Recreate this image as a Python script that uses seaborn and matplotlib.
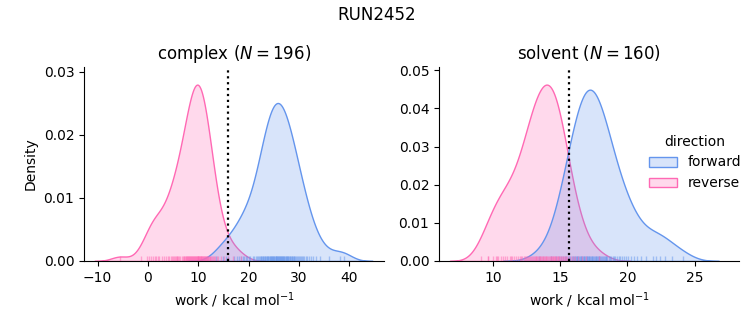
import matplotlib
matplotlib.use("Agg")
import matplotlib.pyplot as plt
import pandas as pd
import seaborn as sns

complex_reverse = [
    -5.6, -1.4, 0.3, 0.6, 1.0, 1.5, 1.9,
    -0.15, 1.41, 2.23, 2.80, 3.25, 3.63, 3.95, 4.23, 4.49, 4.73, 4.95,
    5.15, 5.35, 5.53, 5.70, 5.86, 6.02, 6.17, 6.32, 6.73,
    6.98, 7.10, 7.22, 7.34, 7.46, 7.57, 7.68, 7.79, 7.90, 8.00,
    8.11, 8.21, 8.31, 8.42, 8.52, 8.61, 8.71, 8.81, 8.91, 9.00, 9.10,
    9.19, 9.29, 9.38, 9.48, 9.57, 9.67, 9.76, 9.85, 9.90,
    9.94, 10.03, 10.11, 10.19, 10.28, 10.36, 10.45, 10.53, 10.62, 10.71,
    10.80, 10.89, 10.98, 11.07, 11.17, 11.26, 11.36, 11.46, 11.56, 11.67,
    11.77, 11.89, 12.00, 12.12, 12.25, 12.38, 12.54, 12.73, 12.94, 13.16,
    13.40, 13.66, 13.96, 14.60, 15.20, 15.90, 16.80, 18.40,
]
complex_forward = [
    13.6, 14.9, 16.0, 17.6, 18.8,
    15.56, 17.16, 18.00, 18.58, 19.04, 19.43, 19.76, 20.06, 20.33,
    20.80, 21.01, 21.40, 21.58, 21.92, 22.08, 22.23, 22.38,
    22.53, 22.67, 22.80, 22.94, 23.07, 23.19, 23.32, 23.44, 23.56, 23.68,
    23.80, 23.92, 24.03, 24.15, 24.26, 24.37, 24.48, 24.59, 24.70, 24.81,
    24.91, 25.02, 25.13, 25.23, 25.34, 25.45, 25.50,
    25.55, 25.65, 25.75, 25.85, 25.96, 26.06, 26.16, 26.26, 26.37, 26.47,
    26.57, 26.68, 26.78, 26.89, 27.00, 27.11, 27.22, 27.33, 27.44, 27.56,
    27.67, 27.79, 27.91, 28.03, 28.15, 28.28, 28.41, 28.54, 28.68, 28.82,
    28.96, 29.11, 29.27, 29.43, 29.59, 29.76, 29.95, 30.14, 30.34, 30.55,
    30.78, 31.03, 31.30, 31.60, 31.94, 32.33, 32.80, 33.40, 34.25, 35.88,
    38.2, 39.0,
]
solvent_reverse = [
    9.1, 9.6, 10.0, 10.2, 10.3, 10.6, 10.9, 11.3,
    9.62, 10.37, 10.76, 11.03, 11.25, 11.43, 11.59, 11.73, 11.85, 11.97,
    12.08, 12.18, 12.28, 12.37, 12.45, 12.53, 12.61, 12.69, 12.76, 12.83,
    12.90, 12.97, 13.04, 13.10, 13.16, 13.22, 13.28, 13.35, 13.40, 13.46,
    13.52, 13.58, 13.63, 13.69, 13.74, 13.80, 13.85, 13.91, 13.96, 14.02,
    14.07,
    14.18, 14.23, 14.28, 14.33, 14.38, 14.43, 14.48, 14.53, 14.59, 14.64,
    14.69, 14.75, 14.81, 14.86, 14.92, 14.99, 15.05, 15.12, 15.19, 15.26,
    15.34, 15.43, 15.54, 15.66, 15.80, 15.95, 16.12, 16.33, 16.59, 16.95,
    17.90,
]
solvent_forward = [
    13.40, 14.34, 14.66, 14.89, 15.06, 15.21, 15.34, 15.46, 15.57, 15.66,
    15.76, 15.84, 15.92, 16.00, 16.07, 16.14, 16.21, 16.28, 16.34, 16.40,
    16.46, 16.52, 16.58, 16.64, 16.69, 16.75, 16.80, 16.86, 16.91, 16.96,
    17.02, 17.07, 17.12, 17.17,
    17.23, 17.28, 17.34, 17.40, 17.45, 17.51, 17.57, 17.63, 17.68, 17.74,
    17.80, 17.86, 17.92, 17.98, 18.05, 18.11, 18.17, 18.24, 18.30, 18.37,
    18.44, 18.51, 18.60, 18.69, 18.79, 18.89, 19.00, 19.11, 19.22, 19.34,
    19.47, 19.60, 19.75, 19.90, 20.07, 20.26, 20.47, 20.71, 20.99, 21.36,
    21.88, 22.10,
    22.4, 22.8, 23.3, 24.15,
]

phases = ["complex", "solvent"]
directions = ["forward", "reverse"]
free_energy = [15.9, 15.65]          # dotted reference lines (kcal/mol)
palette = {"forward": "cornflowerblue", "reverse": "hotpink"}

series = {
    ("complex", "forward"): complex_forward,
    ("complex", "reverse"): complex_reverse,
    ("solvent", "forward"): solvent_forward,
    ("solvent", "reverse"): solvent_reverse,
}
frames = []
for (phase, direction), vals in series.items():
    frames.append(pd.DataFrame({"phase": phase, "direction": direction, "work": vals}))
df = pd.concat(frames, ignore_index=True)

g = sns.displot(
    data=df, x="work", hue="direction", col="phase", kind="kde",
    fill=True, rug=True, rug_kws=dict(alpha=0.5),
    palette=palette, hue_order=directions,
    col_order=phases, facet_kws=dict(sharex=False, sharey=False),
    height=3, aspect=1.2,
)

fig = g.figure
fig.set_size_inches(7.53, 3.25)
fig.subplots_adjust(left=0.1116, right=0.9814, bottom=0.197, top=0.794, wspace=0.1833)

xlims = [(-12.7, 46.9), (5.98, 28.3)]
for ax, phase, dg, xl in zip(g.axes.flat, phases, free_energy, xlims):
    n = int((df["phase"] == phase).sum())
    ax.set_title(f"{phase} ($N = {n}$)", fontsize=12)
    ax.axvline(dg, color="black", linestyle=":", linewidth=1.6)
    ax.set_xlim(*xl)
    ax.set_xlabel("work / kcal mol$^{-1}$")
g.axes.flat[0].set_ylabel("Density")
g.axes.flat[1].set_ylabel("")

sns.move_legend(g, "center", bbox_to_anchor=(0.923, 0.50), frameon=False)
fig.suptitle("RUN2452", fontsize=12)

fig.savefig("out.png", dpi=100)
